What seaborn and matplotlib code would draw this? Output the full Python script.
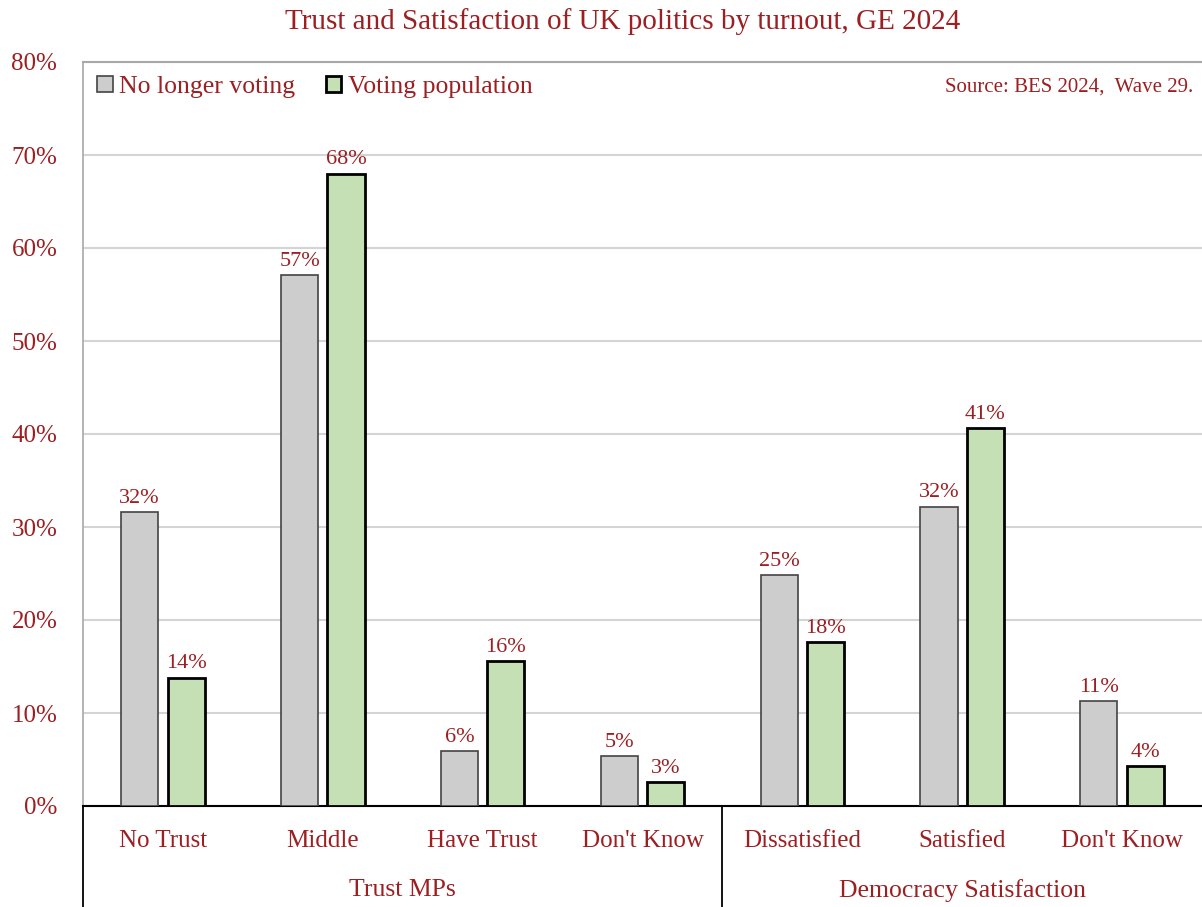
import matplotlib
matplotlib.use("Agg")
import matplotlib.pyplot as plt
import matplotlib.transforms as mtransforms
import pandas as pd
import seaborn as sns

# Survey results (percent of respondents)
categories = ["No Trust", "Middle", "Have Trust", "Don't Know",
              "Dissatisfied", "Satisfied", "Don't Know "]
no_longer_voting = [31.6, 57.1, 5.9, 5.4, 24.8, 32.2, 11.3]
voting_population = [13.8, 68.0, 15.6, 2.6, 17.6, 40.6, 4.3]
series_names = ["No longer voting", "Voting population"]
group_labels = ["Trust MPs", "Democracy Satisfaction"]
group_sizes = [4, 3]
y_ticks = [0, 10, 20, 30, 40, 50, 60, 70, 80]

TEXT = "#9c1f22"
GREY = "#cdcdcd"
GREEN = "#c5e0b4"

df = pd.DataFrame({
    "category": categories * 2,
    "value": no_longer_voting + voting_population,
    "series": [series_names[0]] * len(categories) + [series_names[1]] * len(categories),
})

sns.set_theme(style="white")
plt.rcParams["font.family"] = ["Liberation Serif", "DejaVu Serif"]

fig = plt.figure(figsize=(12.02, 9.07), dpi=100)
ax = fig.add_axes([83 / 1202, 101 / 907, 1119 / 1202, 744 / 907])

sns.barplot(data=df, x="category", y="value", hue="series",
            order=categories, hue_order=series_names,
            palette=[GREY, GREEN], width=0.58, gap=0.2,
            saturation=1, legend=False, ax=ax, zorder=3)

# bar outlines per series
styles = [("#444444", 1.2), ("#000000", 2.0)]
for cont, (ec, lw) in zip(ax.containers, styles):
    for p in cont:
        p.set_edgecolor(ec)
        p.set_linewidth(lw)
    ax.bar_label(cont, labels=[f"{v:.0f}%" for v in cont.datavalues],
                 padding=3, color=TEXT, fontsize=16)

ax.set_xlim(-0.5, len(categories) - 0.5)
ax.set_ylim(0, 80)
ax.set_yticks(y_ticks)
ax.set_yticklabels([f"{t}%" for t in y_ticks])
ax.yaxis.grid(True, color="#d4d4d4", linewidth=1.5, zorder=0)
ax.set_axisbelow(True)
ax.set_xlabel("")
ax.set_ylabel("")
ax.tick_params(axis="y", length=0, pad=18.5, labelsize=18, labelcolor=TEXT)
ax.tick_params(axis="x", length=0, pad=17, labelsize=18, labelcolor=TEXT)
ax.set_xticks(range(len(categories)))
ax.set_xticklabels([c.strip() for c in categories])

ax.spines["right"].set_visible(False)
ax.spines["top"].set_color("#a8a8a8")
ax.spines["top"].set_linewidth(1.5)
ax.spines["left"].set_color("#a8a8a8")
ax.spines["left"].set_linewidth(1.2)
ax.spines["bottom"].set_color("#000000")
ax.spines["bottom"].set_linewidth(1.5)

# group separators and group labels below the axis
trans = mtransforms.blended_transform_factory(ax.transData, ax.transAxes)
edges = [-0.5]
for n in group_sizes:
    edges.append(edges[-1] + n)
for x in edges[:-1]:
    ax.plot([x, x], [0, -0.14], transform=trans, color="black",
            linewidth=1.3, clip_on=False)
for i, lab in enumerate(group_labels):
    xc = (edges[i] + edges[i + 1]) / 2
    ax.text(xc, -0.113, lab, transform=trans, ha="center", va="center",
            fontsize=18.5, color=TEXT)

leg = ax.legend(ax.containers, series_names, loc="upper left",
                bbox_to_anchor=(0.0, 1.0), ncol=2, frameon=False,
                fontsize=18.5, handlelength=0.6, handleheight=0.6,
                handletextpad=0.25, columnspacing=1.2, borderaxespad=0.15)
for t in leg.get_texts():
    t.set_color(TEXT)

ax.text(0.992, 0.967, "Source: BES 2024,  Wave 29.", transform=ax.transAxes,
        ha="right", va="center", fontsize=15, color=TEXT)

fig.text(0.518, 0.976, "Trust and Satisfaction of UK politics by turnout, GE 2024",
         ha="center", va="center", fontsize=21, color=TEXT)

fig.savefig("out.png", dpi=100)
